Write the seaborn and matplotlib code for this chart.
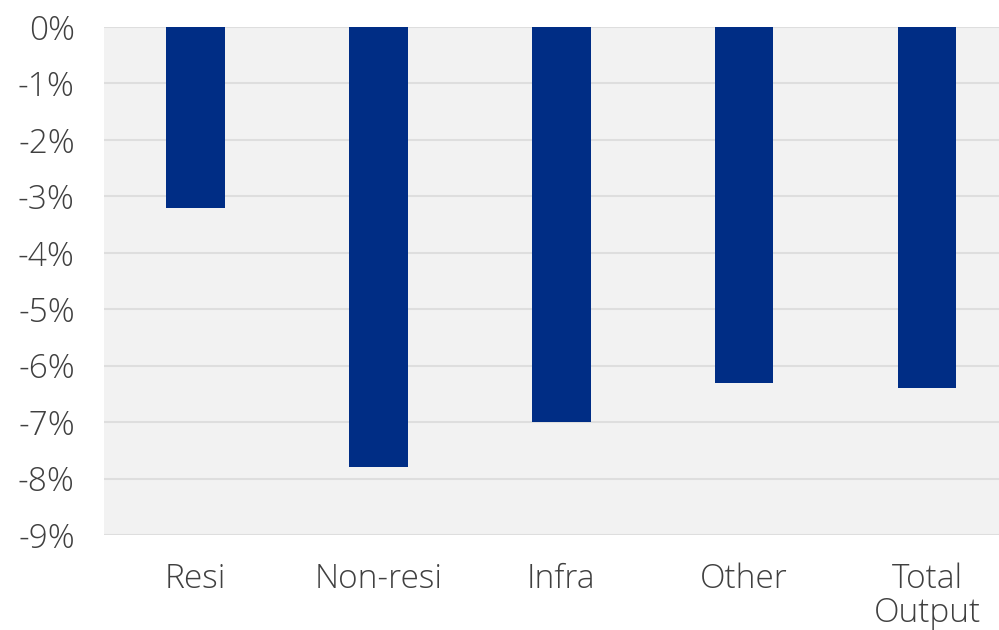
import matplotlib
matplotlib.use("Agg")
import matplotlib.pyplot as plt
import seaborn as sns
import pandas as pd
from matplotlib.ticker import FuncFormatter, MultipleLocator

categories = ["Resi", "Non-resi", "Infra", "Other", "Total\nOutput"]
values = [-3.2, -7.8, -7.0, -6.3, -6.4]

df = pd.DataFrame({"cat": categories, "val": values})

sns.set_theme(style="white")
plt.rcParams['font.family'] = ['Open Sans', 'DejaVu Sans']

fig = plt.figure(figsize=(9.99, 6.3), dpi=100)
ax = fig.add_axes([104/999, 1-535/630, 1-104/999, (535-27)/630])
ax.set_facecolor("#f2f2f2")

sns.barplot(data=df, x="cat", y="val", color="#002D85", width=0.32,
            saturation=1, ax=ax, zorder=3, linewidth=0)

ax.set_ylim(-9, 0)
ax.set_xlim(-0.5, 4.393)
ax.yaxis.set_major_locator(MultipleLocator(1))
ax.yaxis.set_major_formatter(FuncFormatter(lambda v, p: f"{int(round(v))}%"))
ax.grid(axis="y", color="#dedede", linewidth=1.5, zorder=0)
ax.set_axisbelow(True)
for s in ax.spines.values():
    s.set_visible(False)
ax.set_xlabel("")
ax.set_ylabel("")
ax.tick_params(axis="y", length=0, pad=21, labelsize=24, labelcolor="#404040")
ax.tick_params(axis="x", length=0, pad=20, labelsize=24, labelcolor="#404040")
for t in ax.get_yticklabels() + ax.get_xticklabels():
    t.set_fontweight("light")
for t in ax.get_xticklabels():
    t.set_linespacing(1.02)
    t.set_verticalalignment("top")

fig.savefig("out.png", dpi=100)
